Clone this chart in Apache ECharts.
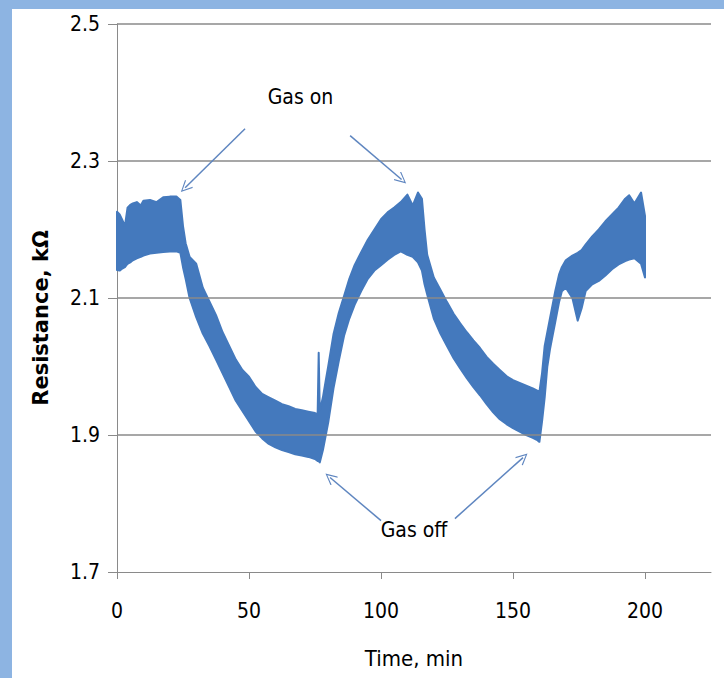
<!DOCTYPE html>
<html><head><meta charset="utf-8">
<script src="https://cdn.jsdelivr.net/npm/echarts@6/dist/echarts.min.js"></script>
<style>html,body{margin:0;padding:0;background:#fff}#c{width:724px;height:678px}</style>
</head><body><div id="c"></div>
<script>
// Time (min)
const timeMin = [0,1,2,3,4,5,6,7.5,9,10,12.5,15,17.5,20,22.5,24,25,26,27.5,30,32.5,35,37.5,40,42.5,45,47.5,50,52.5,55,57.5,60,62.5,65,67.5,70,72.5,75,76,76.4,76.8,78,79,80,82,84,86,88,90,92.5,95,97.5,100,102.5,105,107.5,110,112,114,115.5,116.5,117.5,120,122.5,125,127.5,130,132.5,135,137.5,140,142.5,145,147.5,150,152.5,155,157.5,159,160,161,162,163,164,165,166,167.5,168.5,170,172.5,174.5,176,177.5,180,182.5,185,187.5,190,192.5,194,196,198.5,200];
// Lower envelope of the resistance band (kOhm)
const lowerR = [2.141,2.140,2.143,2.145,2.150,2.152,2.155,2.158,2.160,2.162,2.165,2.166,2.167,2.168,2.168,2.166,2.145,2.128,2.100,2.072,2.048,2.030,2.010,1.990,1.970,1.950,1.935,1.920,1.905,1.895,1.887,1.882,1.878,1.875,1.872,1.870,1.868,1.865,1.862,1.862,1.860,1.878,1.898,1.918,1.968,2.008,2.045,2.070,2.090,2.110,2.128,2.140,2.148,2.156,2.163,2.168,2.163,2.160,2.152,2.140,2.120,2.105,2.070,2.048,2.030,2.012,1.997,1.983,1.970,1.958,1.945,1.933,1.923,1.916,1.910,1.905,1.900,1.896,1.893,1.890,1.920,1.955,2.000,2.025,2.045,2.065,2.095,2.110,2.115,2.100,2.067,2.085,2.110,2.120,2.125,2.133,2.142,2.149,2.154,2.156,2.158,2.150,2.130];
// Upper envelope of the resistance band (kOhm)
const upperR = [2.226,2.222,2.214,2.205,2.232,2.236,2.238,2.240,2.235,2.242,2.243,2.240,2.247,2.248,2.248,2.243,2.205,2.180,2.160,2.150,2.115,2.095,2.075,2.050,2.030,2.010,1.995,1.985,1.970,1.960,1.955,1.950,1.945,1.942,1.938,1.936,1.934,1.932,1.930,2.020,1.935,1.955,1.978,2.000,2.047,2.078,2.103,2.128,2.148,2.167,2.185,2.200,2.215,2.225,2.232,2.240,2.251,2.235,2.254,2.245,2.200,2.163,2.130,2.112,2.094,2.077,2.063,2.050,2.038,2.027,2.014,2.004,1.995,1.986,1.980,1.976,1.972,1.968,1.965,1.963,1.990,2.030,2.050,2.070,2.090,2.110,2.135,2.145,2.155,2.162,2.166,2.170,2.178,2.190,2.200,2.212,2.222,2.232,2.245,2.250,2.238,2.254,2.220];
const xTicks = [0,50,100,150,200];
const yTicks = [1.7,1.9,2.1,2.3,2.5];
const xTitle = 'Time, min';
const yTitle = 'Resistance, kΩ';
// Annotations (data coordinates: [time, resistance])
const gasOnLabel = ['Gas on', [69.5, 2.393]];
const gasOnArrows = [[[48.5, 2.347],[25.8, 2.261]], [[88.3, 2.337],[107.8, 2.273]]];
const gasOffLabel = ['Gas off', [112.5, 1.762]];
const gasOffArrows = [[[100.0, 1.775],[80.7, 1.838]], [[128.0, 1.778],[153.8, 1.867]]];

const BLUE = '#4479bd';
const GRID = '#8a8a8a';
const ARROW = '#5f86c0';
const narrow = '"DejaVu Sans Condensed", "Liberation Sans Narrow", "Arial Narrow", sans-serif';

const bandSeriesData = timeMin.map((t,i)=>[t, lowerR[i], upperR[i]]);

const arrowHead = 'path://M0,0 L10,13 L8.4,14 L0,2.8 L-8.4,14 L-10,13 Z';
const arrowLines = gasOnArrows.concat(gasOffArrows).map(a => [
  {coord: a[0], symbol: 'none'},
  {coord: a[1], symbol: arrowHead, symbolSize: [11, 12]}
]);

function renderBand(params, api) {
  if (params.dataIndex !== 0) return null;
  const pts = [];
  for (let i = 0; i < timeMin.length; i++) pts.push(api.coord([timeMin[i], upperR[i]]));
  for (let i = timeMin.length - 1; i >= 0; i--) pts.push(api.coord([timeMin[i], lowerR[i]]));
  return {
    type: 'polygon',
    shape: {points: pts},
    style: {fill: BLUE, stroke: BLUE, lineWidth: 2, lineJoin: 'round'}
  };
}

const chart = echarts.init(document.getElementById('c'), null, {renderer: 'svg'});
chart.setOption({
  animation: false,
  backgroundColor: '#ffffff',
  grid: {left: 117, right: 13, top: 24, bottom: 106, containLabel: false},
  xAxis: {
    type: 'value', min: 0, max: 225,
    name: xTitle, nameLocation: 'middle', nameGap: 75,
    nameTextStyle: {fontFamily: narrow, fontSize: 22, color: '#000'},
    axisLine: {show: true, lineStyle: {color: GRID, width: 1}},
    axisTick: {show: true, inside: false, length: 7, customValues: xTicks, lineStyle: {color: GRID}},
    axisLabel: {customValues: xTicks, margin: 28, fontFamily: narrow, fontSize: 21, color: '#000'},
    splitLine: {show: false}
  },
  yAxis: {
    type: 'value', min: 1.7, max: 2.5,
    name: yTitle, nameLocation: 'middle', nameGap: 66, nameRotate: 90,
    nameTextStyle: {fontFamily: '"DejaVu Sans", sans-serif', fontWeight: 'bold', fontSize: 21, color: '#000', padding: [0, 40, 0, 0]},
    axisLine: {show: true, onZero: false, lineStyle: {color: GRID, width: 1}},
    axisTick: {show: true, inside: false, length: 9, customValues: yTicks, lineStyle: {color: GRID}},
    axisLabel: {customValues: yTicks, margin: 17, fontFamily: narrow, fontSize: 21, color: '#000', formatter: v => v.toFixed(1)},
    splitLine: {show: false}
  },
  graphic: [
    {type: 'rect', shape: {x: 0, y: 0, width: 724, height: 9}, style: {fill: '#8db4e2'}, silent: true, z: 100},
    {type: 'rect', shape: {x: 0, y: 0, width: 12, height: 678}, style: {fill: '#8db4e2'}, silent: true, z: 100}
  ],
  series: [
    {
      name: 'gridlines', type: 'line', data: [], silent: true,
      markLine: {
        silent: true, symbol: 'none', label: {show: false},
        lineStyle: {color: GRID, width: 1.6, type: 'solid'},
        data: yTicks.slice(1).map(v => ({yAxis: v}))
      },
      z: 1
    },
    {
      name: 'Resistance', type: 'custom', renderItem: renderBand,
      data: bandSeriesData, encode: {x: 0, y: [1, 2]}, z: 3
    },
    {
      name: 'annotations', type: 'line', data: [], silent: true,
      markLine: {
        silent: true, label: {show: false},
        lineStyle: {color: ARROW, width: 1.5, type: 'solid'},
        itemStyle: {color: ARROW},
        data: arrowLines
      },
      markPoint: {
        silent: true, symbol: 'rect', symbolSize: 1, itemStyle: {color: 'rgba(0,0,0,0)'},
        label: {show: true, position: 'inside', color: '#000', fontFamily: narrow, fontSize: 21, formatter: p => p.name},
        data: [
          {name: gasOnLabel[0], coord: gasOnLabel[1]},
          {name: gasOffLabel[0], coord: gasOffLabel[1]}
        ]
      },
      z: 5
    }
  ]
});
</script>
</body></html>
